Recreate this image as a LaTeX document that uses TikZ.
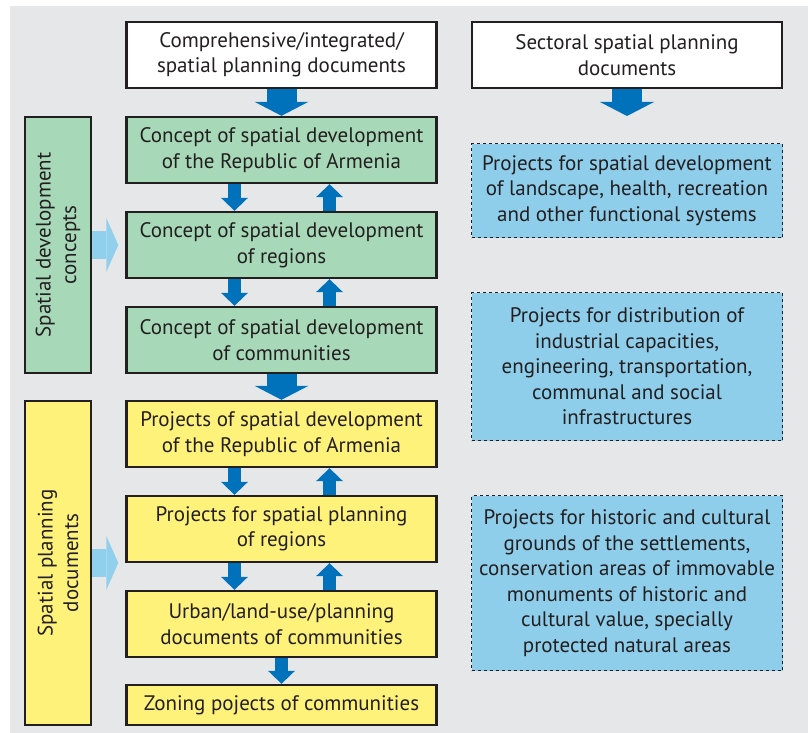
\documentclass[tikz,border=0pt]{standalone}
\usepackage{fontspec}
\setmainfont{PT Sans}
\usetikzlibrary{arrows.meta,calc}
\definecolor{bg}{RGB}{230,231,232}
\definecolor{edge}{RGB}{35,31,32}
\definecolor{txt}{RGB}{35,31,32}
\definecolor{gfill}{RGB}{167,217,185}
\definecolor{yfill}{RGB}{255,242,122}
\definecolor{bfill}{RGB}{142,206,235}
\definecolor{lblue}{RGB}{145,208,236}
\definecolor{dblue}{RGB}{0,114,188}
\begin{document}
\begin{tikzpicture}[x=1pt,y=-1pt,
  txtfont/.style={font=\fontsize{21}{25.5}\selectfont, text=txt},
  box/.style={draw=edge, line width=2.4pt, minimum width=310pt, minimum height=66pt, align=center, inner sep=0pt, txtfont},
  whitebox/.style={box, fill=white},
  greenbox/.style={box, fill=gfill},
  yellowbox/.style={box, fill=yfill},
  sidebox/.style={draw=edge, line width=2.4pt, minimum width=66pt, inner sep=0pt},
  bluebox/.style={draw=edge, dashed, line width=0.9pt, fill=bfill, minimum width=311pt, align=center, inner sep=0pt, txtfont},
  bigarrow/.style={draw=dblue, line width=30pt, -{Triangle[width=54pt,length=14pt,line width=0pt]}},
  smallarrow/.style={draw=dblue, line width=13pt, -{Triangle[width=27pt,length=13pt,line width=0pt]}},
  sidearrow/.style={draw=lblue, line width=28pt, -{Triangle[width=54pt,length=12pt,line width=0pt]}, shorten >=7pt},
]
\useasboundingbox (0,0) rectangle (808,733);
\fill[bg] (10,6) rectangle (808,733);

% left column
\node[whitebox] (top) at (281.5,55) {Comprehensive/integrated/\\spatial planning documents};
\node[greenbox] (g1) at (281.5,150) {Concept of spatial development\\of the Republic of Armenia};
\node[greenbox] (g2) at (281.5,245) {Concept of spatial development\\of regions};
\node[greenbox] (g3) at (281.5,340) {Concept of spatial development\\of communities};
\node[yellowbox] (y1) at (281.5,434) {Projects of spatial development\\of the Republic of Armenia};
\node[yellowbox] (y2) at (281.5,529) {Projects for spatial planning\\of regions};
\node[yellowbox] (y3) at (281.5,624) {Urban/land-use/planning\\documents of communities};
\node[yellowbox, minimum height=40pt] (y4) at (281.5,705) {Zoning pojects of communities};

% side boxes
\node[sidebox, fill=gfill, minimum height=256pt,
  label={[rotate=90, align=center, txtfont]center:Spatial development\\concepts}] (sg) at (58,245) {};
\node[sidebox, fill=yfill, minimum height=324pt,
  label={[rotate=90, align=center, txtfont]center:Spatial planning\\documents}] (sy) at (58,563) {};

% right column
\node[whitebox] (sec) at (627,55) {Sectoral spatial planning\\documents};
\node[bluebox, minimum height=94pt] (b1) at (627,190.5) {Projects for spatial development\\of landscape, health, recreation\\and other functional systems};
\node[bluebox, minimum height=148pt] (b2) at (627,366.5) {Projects for distribution of\\industrial capacities,\\engineering, transportation,\\communal and social\\infrastructures};
\node[bluebox, minimum height=175pt] (b3) at (627,583) {Projects for historic and cultural\\grounds of the settlements,\\conservation areas of immovable\\monuments of historic and\\cultural value, specially\\protected natural areas};
\coordinate (secend) at (627,116);

% arrows
\draw[bigarrow] (top.south) -- (g1.north);
\draw[bigarrow] (g3.south) -- (y1.north);
\draw[bigarrow] (sec.south) -- (secend);

\foreach \a/\b in {g1/g2, g2/g3, y1/y2, y2/y3}{
  \draw[smallarrow] ($(\a.south)+(-47,0)$) -- ($(\b.north)+(-47,0)$);
  \draw[smallarrow] ($(\b.north)+(48,0)$) -- ($(\a.south)+(48,0)$);
}
\draw[smallarrow] (y3.south) -- (y4.north);

\draw[sidearrow] (sg.east) -- (sg.east -| g2.west);
\draw[sidearrow] (sy.east) -- (sy.east -| y2.west);
\end{tikzpicture}
\end{document}
